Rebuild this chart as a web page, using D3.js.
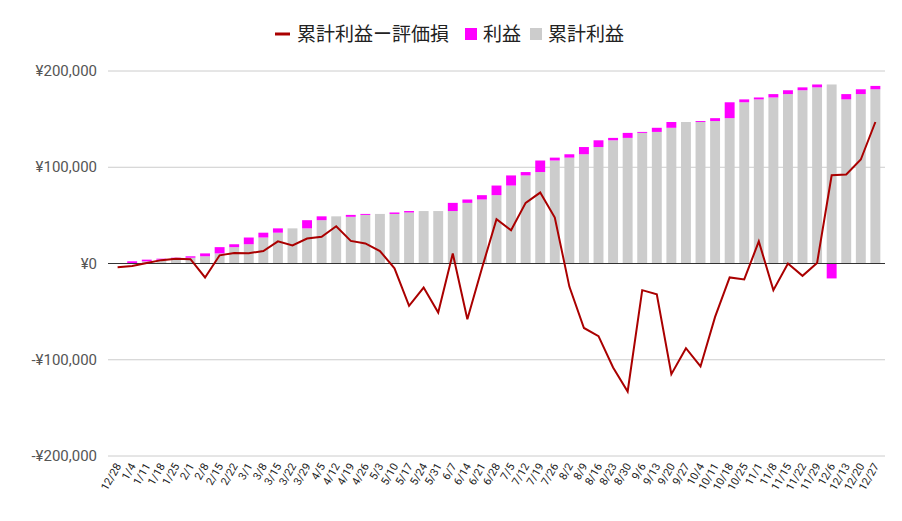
<!DOCTYPE html>
<html>
<head>
<meta charset="utf-8">
<script src="https://cdn.jsdelivr.net/npm/d3@7"></script>
<style>
  body { margin: 0; background: #fff; }
  text { font-family: "Roboto", "Noto Sans CJK JP", sans-serif; }
</style>
</head>
<body>
<svg id="chart" width="902" height="521"></svg>
<script>
const weeks = ["12/28","1/4","1/11","1/18","1/25","2/1","2/8","2/15","2/22","3/1","3/8","3/15","3/22","3/29","4/5","4/12","4/19","4/26","5/3","5/10","5/17","5/24","5/31","6/7","6/14","6/21","6/28","7/5","7/12","7/19","7/26","8/2","8/9","8/16","8/23","8/30","9/6","9/13","9/20","9/27","10/4","10/11","10/18","10/25","11/1","11/8","11/15","11/22","11/29","12/6","12/13","12/20","12/27"];

// cumulative profit after each week (thousand yen)
const cumProfit = [0,2.3,4,5,6,7.5,10.5,17,20,27,32,36.5,36.5,45,49,48.5,50.5,51.5,51.5,53,54.5,54.5,54.5,63,66.5,71,81,91.5,95,107,110,113.5,121,128,130.5,135.7,136.7,141,147,147,148,151,167.5,170.5,172.5,176,180,183,186,170.5,176,181,184.5];

// cumulative profit minus unrealised loss (thousand yen)
const netValue = [-4,-2.5,0.5,3.5,5,4.5,-14.5,8.5,11,10.7,13,23,18.7,26,27.7,38.7,23.5,20.8,13,-5,-44,-25,-51,10.4,-58,-5,46,34.6,63,73.7,47.8,-24,-67,-75.5,-108,-133,-27.7,-32,-115,-88,-107,-55.5,-14.5,-16.6,23,-27.7,0,-12.8,0.6,91.7,92.4,108,147];

const yTicks = [-200000,-100000,0,100000,200000];

const rows = weeks.map((w, i) => {
  const prev = i > 0 ? cumProfit[i - 1] : 0;
  return { week: w, base: prev * 1000, profit: (cumProfit[i] - prev) * 1000, net: netValue[i] * 1000 };
});

const svg = d3.select("#chart");
const margin = { left: 108, right: 17, top: 71, bottom: 65 };
const W = 902, H = 521;

const x = d3.scaleBand().domain(weeks).range([margin.left, W - margin.right]).padding(0.32);
const y = d3.scaleLinear().domain([-200000, 200000]).range([H - margin.bottom, margin.top]);

const fmt = v => (v < 0 ? "-" : "") + "¥" + d3.format(",")(Math.abs(v));

// grid
svg.append("g").selectAll("line").data(yTicks.filter(d => d !== 0)).join("line")
  .attr("x1", margin.left).attr("x2", W - margin.right)
  .attr("y1", d => y(d)).attr("y2", d => y(d))
  .attr("stroke", "#ccc");

svg.append("g").selectAll("text").data(yTicks).join("text")
  .attr("x", margin.left - 11).attr("y", d => y(d) + 5)
  .attr("text-anchor", "end").attr("font-size", 15).attr("fill", "#555")
  .text(fmt);

// bars
svg.append("g").selectAll("rect").data(rows).join("rect")
  .attr("x", d => x(d.week)).attr("width", x.bandwidth())
  .attr("y", d => y(d.base)).attr("height", d => y(0) - y(d.base))
  .attr("fill", "#cccccc");

svg.append("g").selectAll("rect").data(rows.filter(d => d.profit !== 0)).join("rect")
  .attr("x", d => x(d.week)).attr("width", x.bandwidth())
  .attr("y", d => d.profit > 0 ? y(d.base + d.profit) : y(0))
  .attr("height", d => d.profit > 0 ? y(d.base) - y(d.base + d.profit) : y(d.profit) - y(0))
  .attr("fill", "#ff00ff");

// zero line
svg.append("line")
  .attr("x1", margin.left).attr("x2", W - margin.right)
  .attr("y1", y(0)).attr("y2", y(0))
  .attr("stroke", "#333");

// line
const line = d3.line().x(d => x(d.week) + x.bandwidth() / 2).y(d => y(d.net));
svg.append("path").datum(rows)
  .attr("d", line).attr("fill", "none")
  .attr("stroke", "#aa0000").attr("stroke-width", 2);

// x labels
svg.append("g").selectAll("text").data(weeks).join("text")
  .attr("transform", d => `translate(${x(d) + x.bandwidth() / 2 + 4},${H - margin.bottom + 10}) rotate(-60)`)
  .attr("text-anchor", "end").attr("font-size", 11).attr("fill", "#222")
  .text(d => d);

// legend
const legend = [
  { label: "累計利益ー評価損", type: "line", color: "#aa0000", x: 275 },
  { label: "利益", type: "rect", color: "#ff00ff", x: 465 },
  { label: "累計利益", type: "rect", color: "#cccccc", x: 530 }
];
const lg = svg.append("g");
legend.forEach(l => {
  if (l.type === "line") {
    lg.append("line").attr("x1", l.x).attr("x2", l.x + 15).attr("y1", 34).attr("y2", 34)
      .attr("stroke", l.color).attr("stroke-width", 3);
  } else {
    lg.append("rect").attr("x", l.x).attr("y", 28).attr("width", 12).attr("height", 12).attr("fill", l.color);
  }
  lg.append("text").attr("x", l.x + (l.type === "line" ? 22 : 18)).attr("y", 41)
    .attr("font-size", 19).attr("fill", "#222").text(l.label);
});
</script>
</body>
</html>
